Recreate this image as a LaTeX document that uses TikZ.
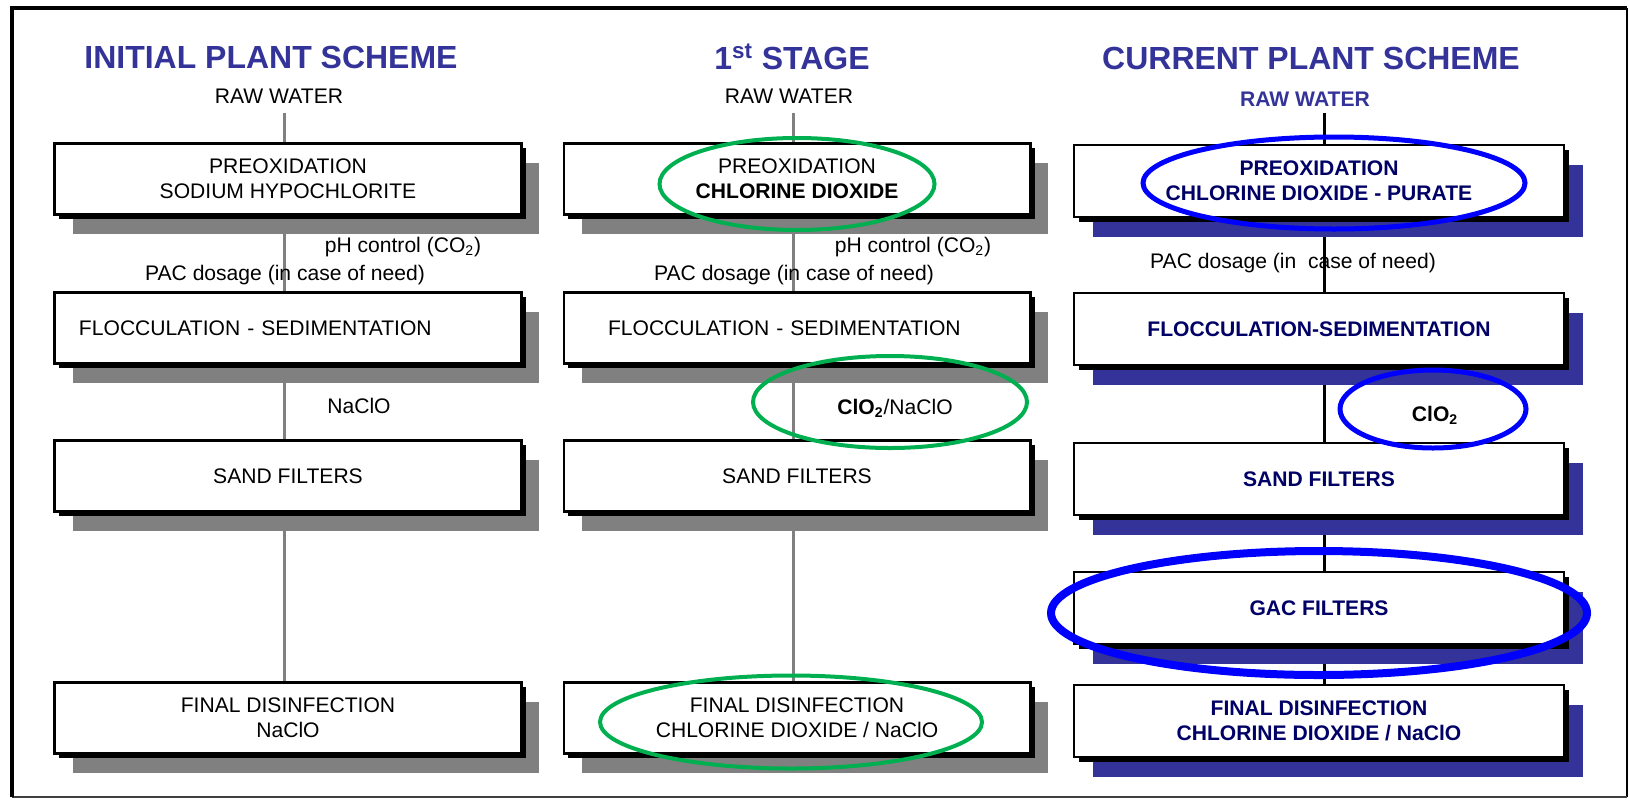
\documentclass[tikz,border=0pt]{standalone}
\usepackage{fontspec}
\setmainfont{Liberation Sans}
\usetikzlibrary{shadows,backgrounds,positioning}

\definecolor{titleblue}{RGB}{51,51,153}
\definecolor{navy}{RGB}{0,0,102}
\definecolor{shadegray}{RGB}{128,128,128}
\definecolor{markgreen}{RGB}{0,176,80}
\definecolor{markblue}{RGB}{0,0,255}

\newcommand{\txtsize}{\fontsize{12}{14.2}\selectfont}
\newcommand{\headsize}{\fontsize{18.2}{20}\selectfont\bfseries}

\tikzset{
  plain/.style={inner sep=0pt, font=\txtsize},
  headline/.style={inner sep=0pt, font=\headsize, text=titleblue},
  stagebox/.style={draw=black, line width=0.5mm, fill=white, align=center,
    minimum height=14.2mm, inner sep=1mm, font=\txtsize},
  greybox/.style={stagebox, minimum width=93.3mm,
    drop shadow={shadow xshift=3.6mm, shadow yshift=-3.8mm, fill=shadegray, opacity=1},
    drop shadow={shadow xshift=0.9mm, shadow yshift=-0.9mm, fill=black, opacity=1}},
  bluebox/.style={stagebox, minimum width=98mm, minimum height=14.4mm,
    font=\txtsize\bfseries, text=navy,
    drop shadow={shadow xshift=3.8mm, shadow yshift=-4mm, fill=titleblue, opacity=1},
    drop shadow={shadow xshift=0.9mm, shadow yshift=-0.9mm, fill=black, opacity=1}},
  greypipe/.style={draw=shadegray, line width=0.6mm},
  blackpipe/.style={draw=black, line width=0.6mm},
  greenring/.style={draw=markgreen, line width=0.8mm},
  bluering/.style={draw=markblue, line width=1mm}
}

\begin{document}
\begin{tikzpicture}[x=0.2mm, y=-0.2mm]
  \useasboundingbox (0,0) rectangle (1629,799);
  % frame
  \draw[line width=0.5mm] (1627,8) -- (1627,797);
  \draw[line width=0.4mm, black!75] (12,797) -- (1627,797);
  \draw[line width=0.8mm] (12,797) -- (12,8) -- (1627,8);

  % initial plant scheme
  \node[headline] (t1) at (271,57) {INITIAL PLANT SCHEME};
  \node[plain] (raw1) at (279,96) {RAW WATER};
  \node[greybox] (pre1) at (288,179) {PREOXIDATION\\SODIUM HYPOCHLORITE};
  \node[plain] (ph1) at (403,247) {pH control (CO\textsubscript{2})};
  \node[plain] (pac1) at (285,275) {PAC dosage (in case of need)};
  \node[greybox, align=left, text width=83.6mm, inner xsep=4.8mm] (flo1) at (288,328) {FLOCCULATION - SEDIMENTATION};
  \node[plain] (na1) at (359,406) {NaClO};
  \node[greybox] (san1) at (288,476) {SAND FILTERS};
  \node[greybox] (fin1) at (288,718) {FINAL DISINFECTION\\NaClO};

  % 1st stage
  \node[headline] (t2) at (792,57) {1\textsuperscript{st} STAGE};
  \node[plain] (raw2) at (789,96) {RAW WATER};
  \node[greybox] (pre2) at (797,179) {PREOXIDATION\\\textbf{CHLORINE DIOXIDE}};
  \node[plain] (ph2) at (913,247) {pH control (CO\textsubscript{2})};
  \node[plain] (pac2) at (794,275) {PAC dosage (in case of need)};
  \node[greybox, align=left, text width=75.6mm, inner xsep=8.8mm] (flo2) at (797,328) {FLOCCULATION - SEDIMENTATION};
  \node[plain] (cl2) at (895,408) {\textbf{ClO\textsubscript{2}}/NaClO};
  \node[greybox] (san2) at (797,476) {SAND FILTERS};
  \node[greybox] (fin2) at (797,718) {FINAL DISINFECTION\\CHLORINE DIOXIDE / NaClO};

  % current plant scheme
  \node[headline] (t3) at (1311,58) {CURRENT PLANT SCHEME};
  \node[plain, font=\txtsize\bfseries, text=titleblue] (raw3) at (1305,99) {RAW WATER};
  \node[bluebox] (pre3) at (1319,181) {PREOXIDATION\\CHLORINE DIOXIDE - PURATE};
  \node[plain] (pac3) at (1293,263) {PAC dosage (in\ \ case of need)};
  \node[bluebox] (flo3) at (1319,329) {FLOCCULATION-SEDIMENTATION};
  \node[plain, font=\txtsize\bfseries] (cl3) at (1435,415) {ClO\textsubscript{2}};
  \node[bluebox] (san3) at (1319,479) {SAND FILTERS};
  \node[bluebox] (gac3) at (1319,608) {GAC FILTERS};
  \node[bluebox] (fin3) at (1319,721) {FINAL DISINFECTION\\CHLORINE DIOXIDE / NaClO};

  % pipes behind the boxes
  \begin{pgfonlayer}{background}
    \coordinate (in1) at (284,113);
    \coordinate (in2) at (793,113);
    \coordinate (in3) at (1324,113);
    \draw[greypipe] (in1) -- (in1 |- pre1.north);
    \draw[greypipe] (in1 |- pre1.south) -- (in1 |- flo1.north);
    \draw[greypipe] (in1 |- flo1.south) -- (in1 |- san1.north);
    \draw[greypipe] (in1 |- san1.south) -- (in1 |- fin1.north);
    \draw[greypipe] (in2) -- (in2 |- pre2.north);
    \draw[greypipe] (in2 |- pre2.south) -- (in2 |- flo2.north);
    \draw[greypipe] (in2 |- flo2.south) -- (in2 |- san2.north);
    \draw[greypipe] (in2 |- san2.south) -- (in2 |- fin2.north);
    \draw[blackpipe] (in3) -- (in3 |- pre3.north);
    \draw[blackpipe] (in3 |- pre3.south) -- (in3 |- flo3.north);
    \draw[blackpipe] (in3 |- flo3.south) -- (in3 |- san3.north);
    \draw[blackpipe] (in3 |- san3.south) -- (in3 |- gac3.north);
    \draw[blackpipe] (in3 |- gac3.south) -- (in3 |- fin3.north);
  \end{pgfonlayer}

  % highlighted changes
  \draw[greenring] (797,184) ellipse [x radius=27.5mm, y radius=9.2mm];
  \draw[greenring] (890,402) ellipse [x radius=27.4mm, y radius=9.2mm];
  \draw[greenring] (791,722) ellipse [x radius=38.2mm, y radius=9.3mm];
  \draw[bluering] (1334,183) ellipse [x radius=38.2mm, y radius=9.2mm];
  \draw[bluering] (1433,409) ellipse [x radius=18.6mm, y radius=7.8mm];
  \draw[bluering, line width=1.6mm] (1319,613) ellipse [x radius=53.6mm, y radius=12.4mm];
\end{tikzpicture}
\end{document}
